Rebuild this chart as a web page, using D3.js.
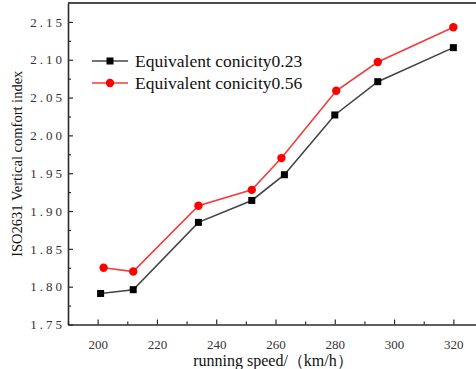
<!DOCTYPE html>
<html>
<head>
<meta charset="utf-8">
<script src="https://cdn.jsdelivr.net/npm/d3@7"></script>
<style>
  body { margin: 0; background: #fff; }
  svg { display: block; font-family: "Liberation Serif", "Times New Roman", serif; }
</style>
</head>
<body>
<div class="chart"></div>
<script>
// data
let speeds = [201, 212, 234, 252, 263, 280, 294.5, 320];
let conicity023 = [1.791, 1.796, 1.885, 1.914, 1.948, 2.027, 2.071, 2.116];
let speeds056 = [202, 212, 234, 252, 262, 280.5, 294.5, 320];
let conicity056 = [1.825, 1.820, 1.907, 1.928, 1.970, 2.059, 2.097, 2.143];
let seriesNames = ["Equivalent conicity0.23", "Equivalent conicity0.56"];
let xTicks = [200, 220, 240, 260, 280, 300, 320];
let yTicks = [1.75, 1.80, 1.85, 1.90, 1.95, 2.00, 2.05, 2.10, 2.15];

let width = 476, height = 369;
let margin = {top: 3, right: -7, bottom: 45, left: 68};

var svg = d3.select(".chart")
  .append("svg")
    .attr("width", width)
    .attr("height", height);

let x = d3.scaleLinear()
    .domain([190, 330])
    .range([margin.left, width - margin.right]);
let y = d3.scaleLinear()
    .domain([1.75, 2.175])
    .range([height - margin.bottom + 0.5, margin.top]);

let axisColor = "#2a2a2a";

// minor ticks first (inward)
svg.append("g")
    .attr("transform", `translate(0,${y(1.75)})`)
    .call(d3.axisTop(x).tickValues(d3.range(190, 331, 10).filter(d => d % 20 != 0)).tickSize(3).tickFormat(""))
    .call(g => g.select(".domain").remove())
    .call(g => g.selectAll("line").attr("stroke", axisColor).attr("stroke-width", 1.2));
svg.append("g")
    .attr("transform", `translate(${margin.left},0)`)
    .call(d3.axisRight(y).tickValues([1.775, 1.825, 1.875, 1.925, 1.975, 2.025, 2.075, 2.125]).tickSize(3).tickFormat(""))
    .call(g => g.select(".domain").remove())
    .call(g => g.selectAll("line").attr("stroke", axisColor).attr("stroke-width", 1.2));

// bottom axis
let xAxis = svg.append("g")
    .attr("transform", `translate(0,${y(1.75)})`)
    .call(d3.axisTop(x).tickValues(xTicks).tickSize(5).tickSizeOuter(0));
xAxis.attr("font-family", null);
xAxis.select(".domain").attr("stroke", axisColor).attr("stroke-width", 1.6);
xAxis.selectAll("line").attr("stroke", axisColor).attr("stroke-width", 1.2);
xAxis.selectAll("text")
    .attr("y", 15)
    .attr("dy", "0.71em")
    .attr("font-size", 13)
    .attr("fill", "#333");

// left axis
let yAxis = svg.append("g")
    .attr("transform", `translate(${margin.left},0)`)
    .call(d3.axisRight(y).tickValues(yTicks).tickSize(5).tickSizeOuter(0).tickFormat(d3.format(".2f")));
yAxis.attr("font-family", null);
yAxis.select(".domain").attr("stroke", axisColor).attr("stroke-width", 1.6);
yAxis.selectAll("line").attr("stroke", axisColor).attr("stroke-width", 1.2);
yAxis.selectAll("text")
    .attr("x", -3)
    .attr("text-anchor", "end")
    .attr("font-size", 13)
    .attr("letter-spacing", 3)
    .attr("fill", "#333");

// top frame line
svg.append("line")
    .attr("x1", margin.left).attr("x2", width)
    .attr("y1", y(2.175)).attr("y2", y(2.175))
    .attr("stroke", "#111")
    .attr("stroke-width", 1.6);

// axis titles
svg.append("text")
    .attr("transform", `translate(22,${(y(1.75) + y(2.175)) / 2}) rotate(-90)`)
    .attr("text-anchor", "middle")
    .attr("font-size", 14.5)
    .attr("fill", "#111")
    .text("ISO2631 Vertical comfort index");
svg.append("text")
    .attr("x", 273)
    .attr("y", 366)
    .attr("text-anchor", "middle")
    .attr("font-size", 16)
    .attr("fill", "#111")
    .text("running speed/（km/h）");

let line = d3.line()
    .x(d => x(d[0]))
    .y(d => y(d[1]));

let black = speeds.map((s, i) => [s, conicity023[i]]);
let red = speeds056.map((s, i) => [s, conicity056[i]]);

svg.append("path")
    .datum(black)
    .attr("fill", "none")
    .attr("stroke", "#444")
    .attr("stroke-width", 1.6)
    .attr("d", line);
svg.append("path")
    .datum(red)
    .attr("fill", "none")
    .attr("stroke", "#f23b3b")
    .attr("stroke-width", 1.6)
    .attr("d", line);

svg.selectAll(".sq")
    .data(black)
    .enter()
    .append("rect")
      .attr("class", "sq")
      .attr("x", d => x(d[0]) - 3.5)
      .attr("y", d => y(d[1]) - 3.5)
      .attr("width", 7)
      .attr("height", 7)
      .style("fill", "#000");
svg.selectAll(".dot")
    .data(red)
    .enter()
    .append("circle")
      .attr("class", "dot")
      .attr("cx", d => x(d[0]))
      .attr("cy", d => y(d[1]))
      .attr("r", 4.2)
      .style("fill", "#ff0000");

// legend
let legend = svg.append("g").attr("transform", "translate(92,61)");
legend.append("line").attr("x1", 0).attr("x2", 36).attr("y1", 0).attr("y2", 0)
    .attr("stroke", "#444").attr("stroke-width", 1.6);
legend.append("rect").attr("x", 18 - 3.5).attr("y", -3.5).attr("width", 7).attr("height", 7).style("fill", "#000");
legend.append("text").attr("x", 43).attr("y", 0).attr("dy", "0.35em")
    .attr("font-size", 17.5).attr("fill", "#111").text(seriesNames[0]);
legend.append("line").attr("x1", 0).attr("x2", 36).attr("y1", 22).attr("y2", 22)
    .attr("stroke", "#f23b3b").attr("stroke-width", 1.6);
legend.append("circle").attr("cx", 18).attr("cy", 22).attr("r", 4.2).style("fill", "#ff0000");
legend.append("text").attr("x", 43).attr("y", 22).attr("dy", "0.35em")
    .attr("font-size", 17.5).attr("fill", "#111").text(seriesNames[1]);
</script>
</body>
</html>
